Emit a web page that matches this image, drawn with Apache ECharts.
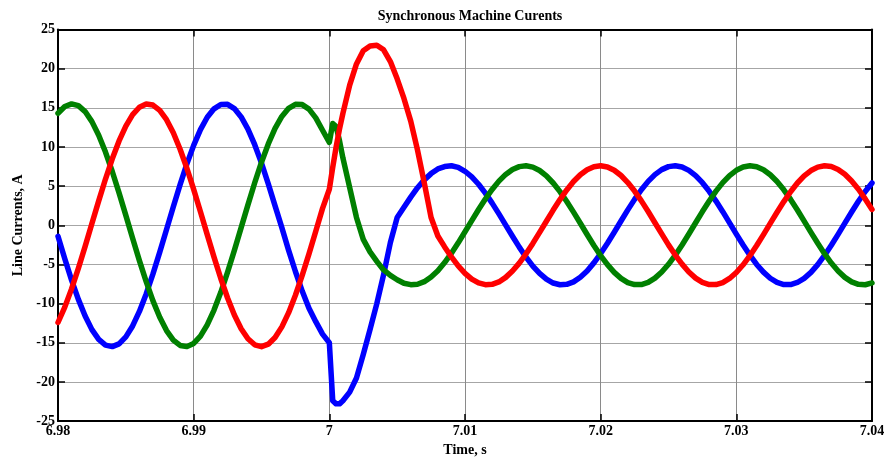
<!DOCTYPE html>
<html>
<head>
<meta charset="utf-8">
<script src="https://cdn.jsdelivr.net/npm/echarts@6/dist/echarts.min.js"></script>
<style>
html,body{margin:0;padding:0;background:#fff;}
#chart{width:895px;height:462px;}
</style>
</head>
<body>
<div id="chart"></div>
<script>
const titleText = 'Synchronous Machine Curents';
const xName = 'Time, s';
const yName = 'Line Currents, A';

const times = [
  6.9800, 6.9805, 6.9810, 6.9815, 6.9820, 6.9825, 6.9830, 6.9835, 6.9840, 6.9845,
  6.9850, 6.9855, 6.9860, 6.9865, 6.9870, 6.9875, 6.9880, 6.9885, 6.9890, 6.9895,
  6.9900, 6.9905, 6.9910, 6.9915, 6.9920, 6.9925, 6.9930, 6.9935, 6.9940, 6.9945,
  6.9950, 6.9955, 6.9960, 6.9965, 6.9970, 6.9975, 6.9980, 6.9985, 6.9990, 6.9995,
  7.0000,
  7.00025, 7.0005, 7.00075,
  7.0010, 7.0015, 7.0020, 7.0025, 7.0030, 7.0035, 7.0040, 7.0045, 7.0050, 7.0055,
  7.0060, 7.0065, 7.0070, 7.0075, 7.0080, 7.0085, 7.0090, 7.0095,
  7.0100, 7.0105, 7.0110, 7.0115, 7.0120, 7.0125, 7.0130, 7.0135, 7.0140, 7.0145,
  7.0150, 7.0155, 7.0160, 7.0165, 7.0170, 7.0175, 7.0180, 7.0185, 7.0190, 7.0195,
  7.0200, 7.0205, 7.0210, 7.0215, 7.0220, 7.0225, 7.0230, 7.0235, 7.0240, 7.0245,
  7.0250, 7.0255, 7.0260, 7.0265, 7.0270, 7.0275, 7.0280, 7.0285, 7.0290, 7.0295,
  7.0300, 7.0305, 7.0310, 7.0315, 7.0320, 7.0325, 7.0330, 7.0335, 7.0340, 7.0345,
  7.0350, 7.0355, 7.0360, 7.0365, 7.0370, 7.0375, 7.0380, 7.0385, 7.0390, 7.0395,
  7.0400
];

const currentBlue = [
  -1.40, -4.27, -6.99, -9.46, -11.59, -13.32, -14.57, -15.30, -15.49, -15.14,
  -14.25, -12.85, -11.00, -8.76, -6.21, -3.43, -0.54, 2.37, 5.20, 7.84,
  10.21, 12.21, 13.79, 14.87, 15.43, 15.44, 14.90, 13.84, 12.28, 10.29,
  7.94, 5.30, 2.48, -0.30, -3.20, -5.90, -8.40, -10.60, -12.30, -13.90,
  -15.00,
  -22.4, -22.8, -22.8,
  -22.4, -21.3, -19.5, -16.5, -13.3, -10.0, -6.3, -2.2, 1.0, 2.3,
  3.6, 4.8, 5.8, 6.6, 7.2, 7.5, 7.6, 7.4,
  6.90, 6.18, 5.24, 4.11, 2.83, 1.46, 0.03, -1.40, -2.79, -4.07,
  -5.21, -6.15, -6.88, -7.37, -7.59, -7.54, -7.22, -6.64, -5.83, -4.80,
  -3.61, -2.29, -0.89, 0.55, 1.97, 3.31, 4.54, 5.61, 6.47, 7.11,
  7.49, 7.60, 7.44, 7.01, 6.34, 5.44, 4.34, 3.09, 1.74, 0.31,
  -1.12, -2.52, -3.82, -5.00, -5.98, -6.76, -7.29, -7.56, -7.57, -7.30,
  -6.77, -6.01, -5.02, -3.85, -2.55, -1.16, 0.28, 1.70, 3.07, 4.31,
  5.41
];

const currentGreen = [
  14.30, 15.17, 15.50, 15.28, 14.52, 13.24, 11.50, 9.35, 6.87, 4.14,
  1.27, -1.65, -4.51, -7.20, -9.65, -11.75, -13.44, -14.65, -15.34, -15.49,
  -15.08, -14.15, -12.71, -10.82, -8.56, -5.98, -3.20, -0.30, 2.61, 5.43,
  8.06, 10.39, 12.37, 13.90, 14.94, 15.45, 15.41, 14.83, 13.72, 12.13,
  10.60,
  13.0, 12.6, 10.8,
  8.6, 4.8, 1.0, -1.8, -3.4, -4.6, -5.7, -6.4, -6.95, -7.4,
  -7.58, -7.53, -7.2, -6.6, -5.8, -4.76, -3.56, -2.24,
  -0.83, 0.60, 2.02, 3.36, 4.58, 5.64, 6.50, 7.12, 7.49, 7.60,
  7.43, 7.00, 6.32, 5.40, 4.30, 3.04, 1.68, 0.26, -1.18, -2.57,
  -3.87, -5.03, -6.01, -6.78, -7.31, -7.57, -7.56, -7.29, -6.75, -5.97,
  -4.98, -3.81, -2.51, -1.11, 0.32, 1.75, 3.10, 4.36, 5.45, 6.35,
  7.02, 7.44, 7.60, 7.48, 7.10, 6.46, 5.59, 4.53, 3.30, 1.95,
  0.53, -0.90, -2.30, -3.63, -4.82, -5.84, -6.65, -7.22, -7.54, -7.59,
  -7.36
];

const currentRed = [
  -12.41, -10.45, -8.12, -5.50, -2.69, 0.22, 3.12, 5.91, 8.49, 10.77,
  12.67, 14.12, 15.07, 15.48, 15.35, 14.67, 13.48, 11.81, 9.71, 7.28,
  4.58, 1.73, -1.19, -4.06, -6.79, -9.28, -11.45, -13.20, -14.49, -15.26,
  -15.50, -15.18, -14.33, -12.97, -11.15, -8.93, -6.40, -3.64, -0.76, 2.16,
  4.60,
  7.4, 10.0, 12.3,
  14.3, 17.9, 20.6, 22.3, 22.9, 23.0, 22.4, 20.9, 18.7, 16.2,
  13.3, 9.6, 5.4, 1.0, -1.37, -2.76, -4.04, -5.18,
  -6.13, -6.87, -7.36, -7.58, -7.54, -7.23, -6.65, -5.84, -4.83, -3.64,
  -2.31, -0.91, 0.52, 1.94, 3.28, 4.52, 5.59, 6.46, 7.10, 7.48,
  7.60, 7.45, 7.03, 6.36, 5.46, 4.37, 3.12, 1.76, 0.33, -1.10,
  -2.50, -3.80, -4.96, -5.96, -6.74, -7.28, -7.56, -7.57, -7.31, -6.79,
  -6.02, -5.04, -3.88, -2.58, -1.19, 0.24, 1.67, 3.03, 4.29, 5.40,
  6.31, 6.99, 7.43, 7.60, 7.50, 7.13, 6.51, 5.65, 4.60, 3.37,
  2.03
];

const xMin = 6.98, xMax = 7.04, xStep = 0.01;
const yMin = -25, yMax = 25, yStep = 5;

const FONT = "'Liberation Serif', 'Times New Roman', serif";

function pairs(vals) { return times.map((t, i) => [t, vals[i]]); }

const chart = echarts.init(document.getElementById('chart'), null, {renderer: 'canvas'});

const tickStyle = {show: true, inside: true, length: 7, lineStyle: {color: '#000', width: 1.5}};
const axisLineStyle = {show: true, onZero: false, lineStyle: {color: '#000', width: 2}};

chart.setOption({
  animation: false,
  backgroundColor: '#ffffff',
  title: {
    text: titleText,
    left: 465,
    textAlign: 'center',
    top: 4,
    textStyle: {fontFamily: FONT, fontWeight: 'bold', fontSize: 14, color: '#000'}
  },
  grid: {left: 58, right: 23, top: 29.5, bottom: 36.5, containLabel: false},
  xAxis: [{
    type: 'value', min: xMin, max: xMax, interval: xStep, position: 'bottom',
    name: xName, nameLocation: 'middle', nameGap: 18,
    nameTextStyle: {fontFamily: FONT, fontWeight: 'bold', fontSize: 14, color: '#000'},
    axisLine: axisLineStyle, axisTick: tickStyle,
    axisLabel: {margin: 3, fontFamily: FONT, fontWeight: 'bold', fontSize: 14, color: '#000',
      formatter: v => String(+v.toFixed(2))},
    splitLine: {show: true, lineStyle: {color: '#8a8a8a', width: 1}}
  }, {
    type: 'value', min: xMin, max: xMax, interval: xStep, position: 'top',
    axisLine: axisLineStyle, axisTick: tickStyle, axisLabel: {show: false}, splitLine: {show: false}
  }],
  yAxis: [{
    type: 'value', min: yMin, max: yMax, interval: yStep, position: 'left',
    name: yName, nameLocation: 'middle', nameGap: 27,
    nameTextStyle: {fontFamily: FONT, fontWeight: 'bold', fontSize: 14, color: '#000'},
    axisLine: axisLineStyle, axisTick: tickStyle,
    axisLabel: {margin: 3, fontFamily: FONT, fontWeight: 'bold', fontSize: 14, color: '#000'},
    splitLine: {show: true, lineStyle: {color: '#a6a6a6', width: 1}}
  }, {
    type: 'value', min: yMin, max: yMax, interval: yStep, position: 'right',
    axisLine: axisLineStyle, axisTick: tickStyle, axisLabel: {show: false}, splitLine: {show: false}
  }],
  series: [
    {name: 'ia', type: 'line', data: pairs(currentBlue), color: '#0000ff'},
    {name: 'ib', type: 'line', data: pairs(currentGreen), color: '#008000'},
    {name: 'ic', type: 'line', data: pairs(currentRed), color: '#ff0000'}
  ].map(s => Object.assign(s, {
    xAxisIndex: 0, yAxisIndex: 0, showSymbol: false, symbol: 'none',
    smooth: false, clip: true,
    lineStyle: {width: 5.5, color: s.color, cap: 'round', join: 'round'}
  }))
});
</script>
</body>
</html>
